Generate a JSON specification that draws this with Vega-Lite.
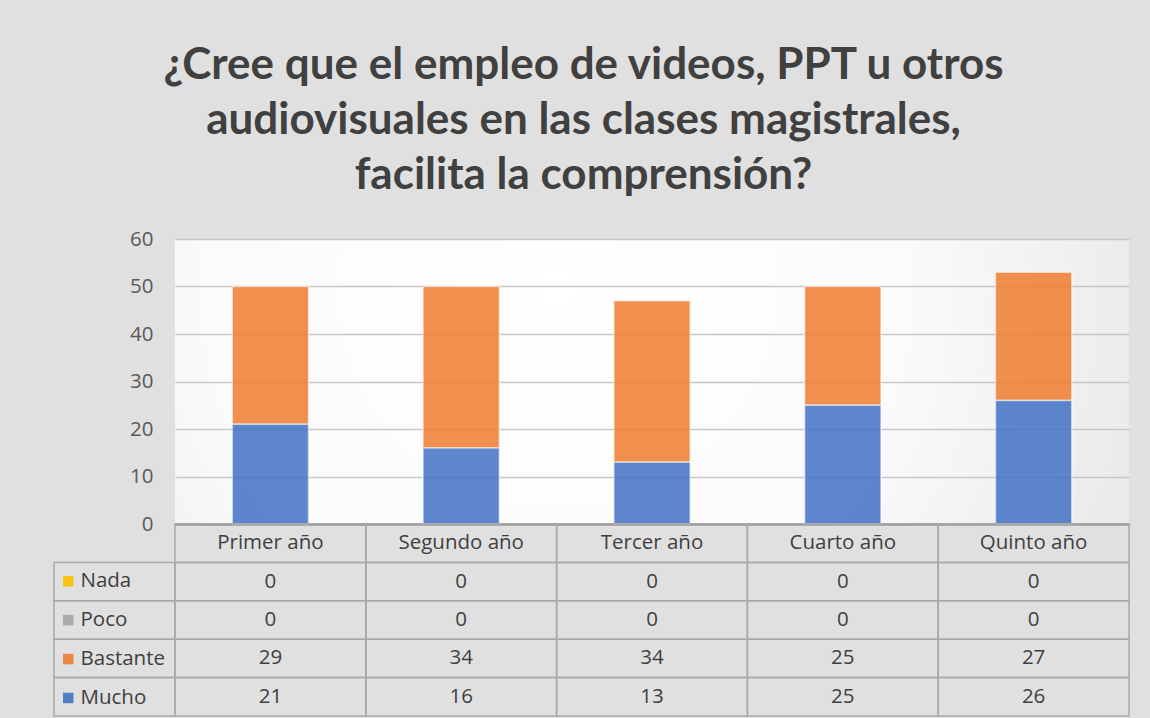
{
  "$schema": "https://vega.github.io/schema/vega-lite/v6.json",
  "background": "#e0e0e0",
  "padding": {"left": 53, "top": 44, "right": 22, "bottom": 2},
  "title": {
    "text": ["¿Cree que el empleo de videos, PPT u otros", "audiovisuales en las clases magistrales,", "facilita la comprensión?"],
    "fontSize": 44,
    "font": "Lato",
    "fontWeight": "bold",
    "color": "#404040",
    "lineHeight": 55,
    "anchor": "middle",
    "offset": 31,
    "dx": -8
  },
  "datasets": {
    "t": [
      {"year": "Primer año", "series": "Nada", "value": 0},
      {"year": "Primer año", "series": "Poco", "value": 0},
      {"year": "Primer año", "series": "Bastante", "value": 29},
      {"year": "Primer año", "series": "Mucho", "value": 21},
      {"year": "Segundo año", "series": "Nada", "value": 0},
      {"year": "Segundo año", "series": "Poco", "value": 0},
      {"year": "Segundo año", "series": "Bastante", "value": 34},
      {"year": "Segundo año", "series": "Mucho", "value": 16},
      {"year": "Tercer año", "series": "Nada", "value": 0},
      {"year": "Tercer año", "series": "Poco", "value": 0},
      {"year": "Tercer año", "series": "Bastante", "value": 34},
      {"year": "Tercer año", "series": "Mucho", "value": 13},
      {"year": "Cuarto año", "series": "Nada", "value": 0},
      {"year": "Cuarto año", "series": "Poco", "value": 0},
      {"year": "Cuarto año", "series": "Bastante", "value": 25},
      {"year": "Cuarto año", "series": "Mucho", "value": 25},
      {"year": "Quinto año", "series": "Nada", "value": 0},
      {"year": "Quinto año", "series": "Poco", "value": 0},
      {"year": "Quinto año", "series": "Bastante", "value": 27},
      {"year": "Quinto año", "series": "Mucho", "value": 26}
    ]
  },
  "columns": 2,
  "spacing": 0,
  "bounds": "flush",
  "concat": [
    {
      "width": 121,
      "height": 285,
      "data": {"values": []},
      "mark": "point",
      "encoding": {}
    },
    {
      "width": 954,
      "height": 285,
      "data": {"name": "t"},
      "transform": [{"filter": "datum.value > 0"}],
      "view": {
        "fill": {
          "gradient": "radial",
          "x1": 0.4, "y1": 0.4, "r1": 0,
          "x2": 0.4, "y2": 0.4, "r2": 0.8,
          "stops": [
            {"offset": 0, "color": "#ffffff"},
            {"offset": 0.45, "color": "#fbfbfb"},
            {"offset": 1, "color": "#e0e0e0"}
          ]
        }
      },
      "mark": {"type": "bar", "stroke": "#ffffff", "strokeOpacity": 0.55, "strokeWidth": 1.5, "fillOpacity": 0.86},
      "encoding": {
        "x": {
          "field": "year",
          "type": "nominal",
          "sort": ["Primer año", "Segundo año", "Tercer año", "Cuarto año", "Quinto año"],
          "scale": {"paddingInner": 0.6, "paddingOuter": 0.3},
          "axis": {"labels": false, "ticks": false, "title": null, "grid": false, "domainColor": "#7f7f7f", "domainWidth": 2}
        },
        "y": {
          "field": "value",
          "type": "quantitative",
          "stack": "zero",
          "scale": {"domain": [0, 60], "nice": false},
          "axis": {
            "title": null,
            "values": [0, 10, 20, 30, 40, 50, 60],
            "grid": true,
            "gridColor": "#c8c8c8",
            "gridWidth": 1.3,
            "domain": false,
            "ticks": false,
            "labelFontSize": 20.5,
            "labelColor": "#595959",
            "labelPadding": 22
          }
        },
        "color": {
          "field": "series",
          "type": "nominal",
          "scale": {
            "domain": ["Nada", "Poco", "Bastante", "Mucho"],
            "range": ["#ffc000", "#a5a5a5", "#ed7d31", "#4472c4"]
          },
          "legend": {
            "orient": "none",
            "legendX": 4,
            "legendY": 332,
            "title": null,
            "symbolType": "square",
            "symbolSize": 110,
            "symbolStrokeWidth": 0,
            "symbolOpacity": 0.9,
            "labelFontSize": 20.5,
            "labelColor": "#404040",
            "labelOffset": 2,
            "rowPadding": 17.9,
            "padding": 0
          }
        },
        "order": {"field": "series", "sort": "descending"}
      }
    },
    {
      "width": 121,
      "height": 192,
      "data": {"name": "t"},
      "transform": [{"aggregate": [{"op": "count", "as": "n"}], "groupby": ["series"]}],
      "mark": {"type": "rect", "fill": "transparent", "stroke": "#a8a8a8", "strokeWidth": 1.5},
      "encoding": {
        "y": {
          "field": "series",
          "type": "nominal",
          "scale": {"domain": ["header", "Nada", "Poco", "Bastante", "Mucho"], "paddingInner": 0, "paddingOuter": 0},
          "axis": null
        }
      }
    },
    {
      "width": 954,
      "height": 192,
      "data": {"name": "t"},
      "layer": [
        {
          "mark": {"type": "rect", "fill": "transparent", "stroke": "#a8a8a8", "strokeWidth": 1.5},
          "encoding": {
            "x": {"field": "year", "type": "nominal", "scale": {"domain": ["Primer año", "Segundo año", "Tercer año", "Cuarto año", "Quinto año"], "paddingInner": 0, "paddingOuter": 0}, "axis": null},
            "y": {"field": "series", "type": "nominal", "scale": {"domain": ["header", "Nada", "Poco", "Bastante", "Mucho"], "paddingInner": 0, "paddingOuter": 0}, "axis": null}
          }
        },
        {
          "mark": {"type": "text", "fontSize": 20.5, "color": "#404040"},
          "encoding": {
            "x": {"field": "year", "type": "nominal", "axis": null},
            "y": {"field": "series", "type": "nominal", "axis": null},
            "text": {"field": "value", "type": "quantitative"}
          }
        },
        {
          "transform": [{"filter": "datum.series == 'Mucho'"}],
          "mark": {"type": "rect", "fill": "transparent", "stroke": "#a8a8a8", "strokeWidth": 1.5},
          "encoding": {
            "x": {"field": "year", "type": "nominal", "axis": null},
            "y": {"datum": "header", "type": "nominal", "axis": null}
          }
        },
        {
          "transform": [{"filter": "datum.series == 'Mucho'"}],
          "mark": {"type": "text", "fontSize": 20.5, "color": "#404040"},
          "encoding": {
            "x": {"field": "year", "type": "nominal", "axis": null},
            "y": {"datum": "header", "type": "nominal", "axis": null},
            "text": {"field": "year", "type": "nominal"}
          }
        }
      ]
    }
  ],
  "config": {
    "font": "Open Sans",
    "view": {"stroke": null}
  }
}
